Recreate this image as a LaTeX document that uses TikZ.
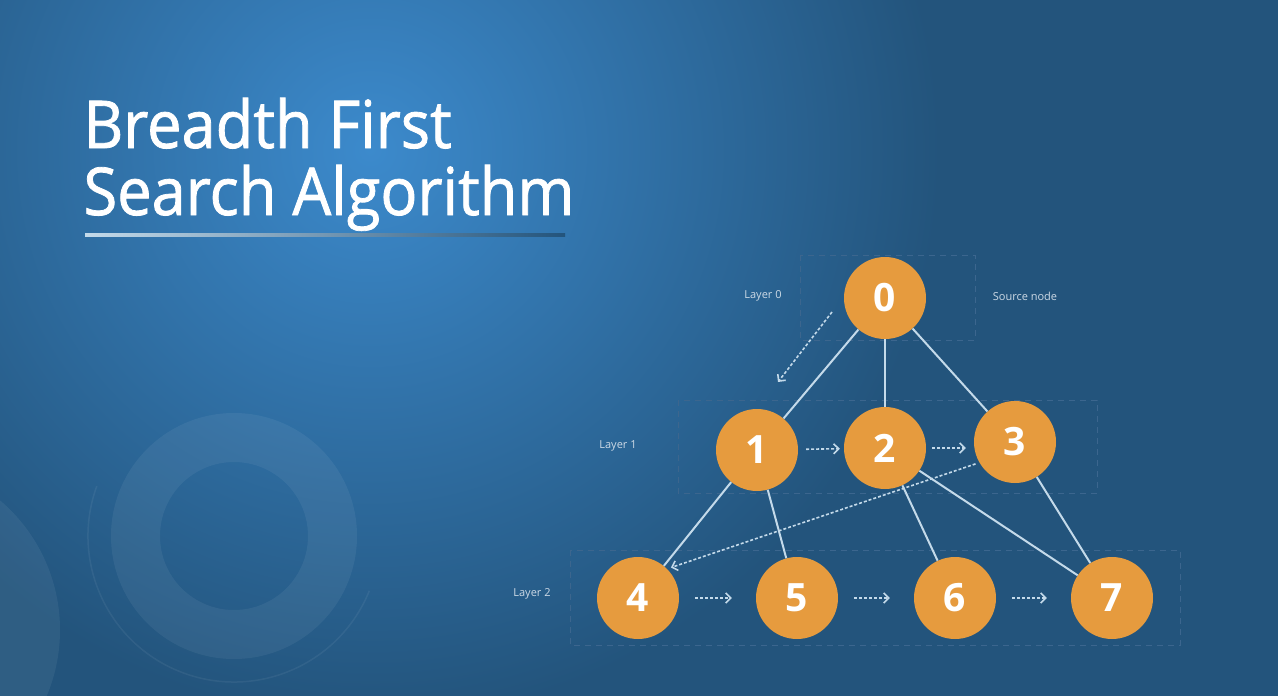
\documentclass[tikz,border=0pt]{standalone}
\usepackage{fontspec}
\setmainfont{Open Sans}
\usetikzlibrary{arrows.meta}
\definecolor{bgblue}{RGB}{35,84,124}
\definecolor{glow}{RGB}{60,138,204}
\definecolor{amber}{RGB}{230,155,62}
\definecolor{wire}{RGB}{196,218,234}
\definecolor{boxline}{RGB}{60,102,142}
\definecolor{lbltxt}{RGB}{205,218,230}
\newfontfamily\headfont[FakeBold=1.2,FakeStretch=0.93]{Open Sans}

\begin{document}
\begin{tikzpicture}[x=1pt,y=-1pt,
  vtx/.style={circle,fill=amber,text=white,minimum size=82pt,inner sep=0pt,font=\fontsize{39}{39}\selectfont\bfseries},
  edge/.style={wire,line width=2pt},
  flow/.style={wire,line width=1.6pt,dash pattern=on 3pt off 2pt,-{Straight Barb[length=5pt,width=10pt,line width=1.6pt]}},
  layerbox/.style={boxline,line width=1pt,dash pattern=on 6pt off 5pt},
  lbl/.style={text=lbltxt,font=\fontsize{11}{11}\selectfont},
  head/.style={anchor=base west,text=white,font=\headfont\fontsize{66}{66}\selectfont},
  tint/.style={white,opacity=0.06}]
  % background
  \useasboundingbox (0,0) rectangle (1278,696);
  \clip (0,0) rectangle (1278,696);
  \fill[bgblue] (0,0) rectangle (1278,696);
  \shade[inner color=glow,outer color=bgblue] (370,150) circle (570pt);
  \fill[tint,even odd rule] (234,536) circle (123pt) (234,536) circle (74pt);
  \draw[tint,line width=1.5pt] (234,536) ++(160:146pt) arc[start angle=160,end angle=338,radius=146pt];
  \fill[tint] (-110,630) circle (170pt);
  % title
  \node[head] (t1) at (80,148) {Breadth First};
  \node[head] (t2) at (80,215) {Search Algorithm};
  \shade[left color=wire,right color=bgblue] (85,233) rectangle (565,236);
  % layers
  \draw[layerbox] (800,255) rectangle (975,340);
  \draw[layerbox] (678,400) rectangle (1097,493);
  \draw[layerbox] (570,550) rectangle (1180,645);
  \node[lbl] (l0) at (763,296) {Layer 0};
  \node[lbl] (src) at (1025,296) {Source node};
  \node[lbl] (l1) at (618,446) {Layer 1};
  \node[lbl] (l2) at (532,594) {Layer 2};
  % graph
  \foreach \i/\x/\y in {0/885/298,1/757/450,2/885/448,3/1015/442,4/638/598,5/797/598,6/955/598,7/1112/598}{
    \node[vtx] (n\i) at (\x,\y) {\i};}
  \foreach \a/\b in {0/1,0/2,0/3,1/4,1/5,2/6,2/7,3/7}{
    \draw[edge] (n\a)--(n\b);}
  \draw[flow,shorten <=8pt,shorten >=4pt] (n1)--(n2);
  \draw[flow] ([xshift=6pt]n2.east)--([xshift=-8pt]n3.west |- n2.east);
  \foreach \a/\b in {4/5,5/6,6/7}{
    \draw[flow,shorten <=16pt,shorten >=24pt] (n\a)--(n\b);}
  \draw[flow,shorten <=4pt,shorten >=4pt] (n3.210)--(n4.45);
  \coordinate (d0) at (832,312);
  \coordinate (d1) at (778,382);
  \draw[flow] (d0)--(d1);
\end{tikzpicture}
\end{document}
